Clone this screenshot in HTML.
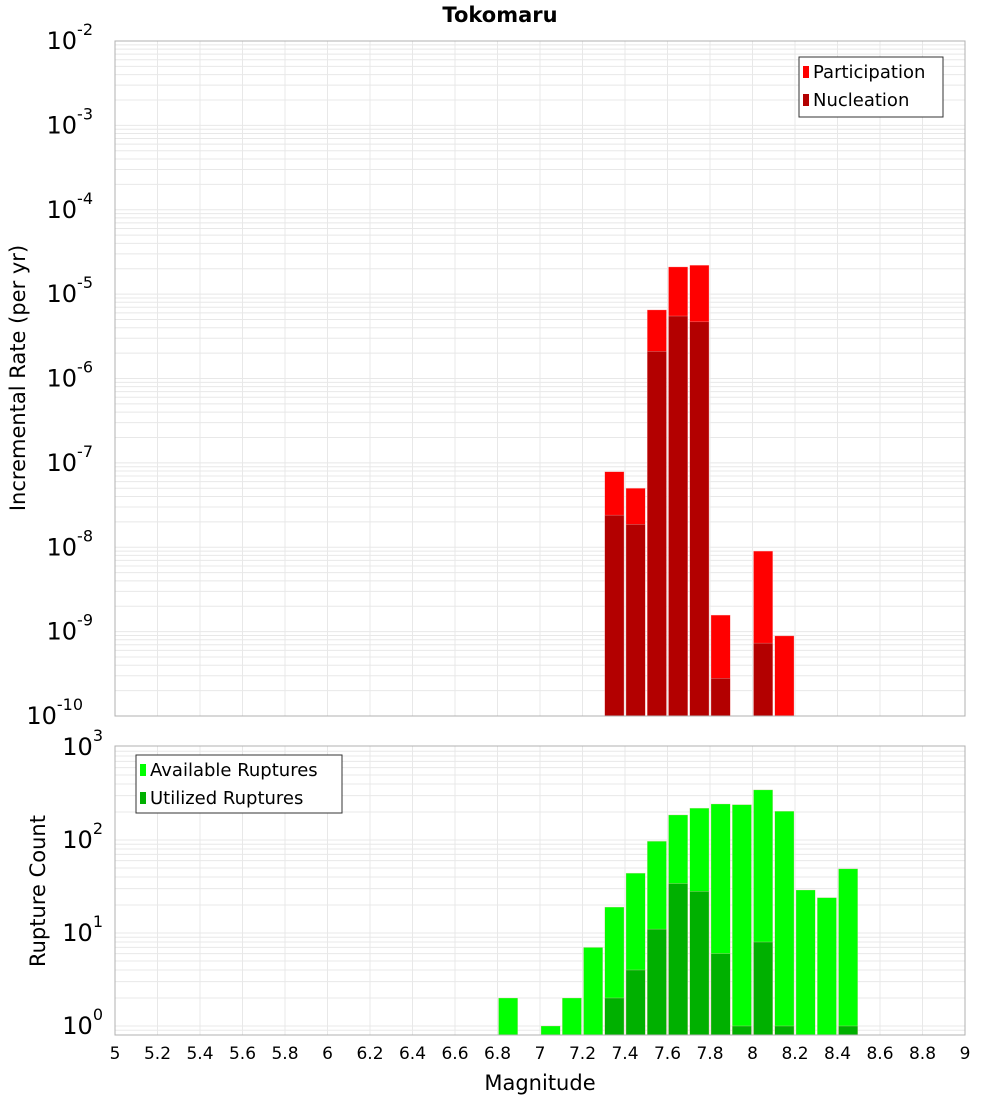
<!DOCTYPE html>
<html><head><meta charset="utf-8"><style>
body{margin:0;background:#fff;}
svg{display:block;font-family:"DejaVu Sans","Liberation Sans",sans-serif;}
</style></head><body>
<svg id="chart" width="1000" height="1100"></svg>
<script>
const binCenters=[6.85,6.95,7.05,7.15,7.25,7.35,7.45,7.55,7.65,7.75,7.85,7.95,8.05,8.15,8.25,8.35,8.45];
const participation=[0,0,0,0,0,7.85e-8,5.0e-8,6.5e-6,2.1e-5,2.2e-5,1.57e-9,0,9.0e-9,8.9e-10,0,0,0];
const nucleation=[0,0,0,0,0,2.4e-8,1.87e-8,2.1e-6,5.5e-6,4.7e-6,2.8e-10,0,7.3e-10,0,0,0,0];
const available=[2,0,1,2,7,19,44,97,186,220,244,240,346,204,29,24,49];
const utilized=[0,0,0,0,0,2,4,11,34,28,6,1,8,1,0,0,1];
const xTicks=["5","5.2","5.4","5.6","5.8","6","6.2","6.4","6.6","6.8","7","7.2","7.4","7.6","7.8","8","8.2","8.4","8.6","8.8","9"];
const topExps=[-2,-3,-4,-5,-6,-7,-8,-9,-10];
const botExps=[3,2,1,0];

const NS="http://www.w3.org/2000/svg";
const svg=document.getElementById('chart');
function mk(tag,attrs,parent){const e=document.createElementNS(NS,tag);for(const k in attrs)e.setAttribute(k,attrs[k]);(parent||svg).appendChild(e);return e;}
const L=115,R=965;
const xS=v=>L+(v-5)/4*(R-L);
const T1=41,B1=716;
const yTop=v=>B1-(Math.log10(v)+10)*(B1-T1)/8;
const T2=746,B2=1035,dec2=93;
const yBot=v=>1026-Math.log10(v)*dec2;

// frames & grids
function grid(T,B,ymap,minExp,maxExp){
  for(let e=minExp;e<=maxExp;e++)for(let m=1;m<10;m++){
    const v=m*Math.pow(10,e);const y=ymap(v);
    if(y<T||y>B)continue;
    const l=mk('line',{x1:L,x2:R,y1:y,y2:y,stroke:'#e8e8e8','stroke-width':1});
    
    
  }
  for(let i=0;i<xTicks.length;i++){const x=xS(parseFloat(xTicks[i]));
    const l=mk('line',{x1:x,x2:x,y1:T,y2:B,stroke:'#e8e8e8','stroke-width':1});
    
    
  }
}
grid(T1,B1,yTop,-10,-3);
grid(T2,B2,yBot,-1,2);

const bw=(R-L)/40;
function bars(vals,ymap,B,color,name){
  vals.forEach((v,i)=>{if(!v)return;const x=xS(binCenters[i]-0.05);const y=Math.max(ymap(v),0);
    const r=mk('rect',{x:x+1,y:y,width:bw-2,height:B-y,fill:color,stroke:'rgba(255,200,200,0.6)','stroke-width':0.5});
    
    
  });
}
bars(participation,yTop,B1,'#ff0000','participation-bar');
bars(nucleation,yTop,B1,'#b30000','nucleation-bar');
bars(available,yBot,B2,'#00ff00','available-bar');
bars(utilized,yBot,B2,'#00b000','utilized-bar');

mk('rect',{x:L,y:T1,width:R-L,height:B1-T1,fill:'none',stroke:'#b0b0b0','stroke-width':1,});
mk('rect',{x:L,y:T2,width:R-L,height:B2-T2,fill:'none',stroke:'#b0b0b0','stroke-width':1,});

function pow(x,y,e,name){
  const t=mk('text',{x:x,y:y,'text-anchor':'end','font-size':24,fill:'#000'});
  
  
  t.appendChild(document.createTextNode('10'));
  const s=document.createElementNS(NS,'tspan');s.setAttribute('dy','-14');s.setAttribute('font-size','16');s.textContent=String(e);t.appendChild(s);
  t.setAttribute('x',x-(String(e).length*10));
}
topExps.forEach(e=>pow(113,yTop(Math.pow(10,e))+8,e,'y-tick-label'));
botExps.forEach(e=>pow(113,yBot(Math.pow(10,e))+8,e,'y2-tick-label'));

xTicks.forEach(t=>{const x=xS(parseFloat(t));
  const tx=mk('text',{x:x,y:1059,'text-anchor':'middle','font-size':17,fill:'#000'});
  
  
  tx.textContent=t;});

const title=mk('text',{x:500,y:22,'text-anchor':'middle','font-size':21,'font-weight':'bold'});
title.textContent='Tokomaru';
const xt=mk('text',{x:540,y:1090,'text-anchor':'middle','font-size':21});
xt.textContent='Magnitude';
const yt=mk('text',{x:0,y:0,'text-anchor':'middle','font-size':21,transform:'translate(25,378) rotate(-90)'});
yt.textContent='Incremental Rate (per yr)';
const yt2=mk('text',{x:0,y:0,'text-anchor':'middle','font-size':21,transform:'translate(45,891) rotate(-90)'});
yt2.textContent='Rupture Count';

function legend(x,y,w,h,items,name){
  const g=mk('g',{});
  mk('rect',{x:x,y:y,width:w,height:h,fill:'#fff',stroke:'#333','stroke-width':1},g);
  items.forEach((it,i)=>{
    const cy=y+16+i*28;
    mk('rect',{x:x+4,y:cy-7,width:6,height:12,fill:it[1]},g);
    const t=mk('text',{x:x+14,y:cy+5,'font-size':18},g);
    t.textContent=it[0];
  });
}
legend(799,57,144,60,[['Participation','#ff0000'],['Nucleation','#b30000']],'top-legend');
legend(136,755,206,58,[['Available Ruptures','#00ff00'],['Utilized Ruptures','#00b000']],'bottom-legend');
</script>
</body></html>
